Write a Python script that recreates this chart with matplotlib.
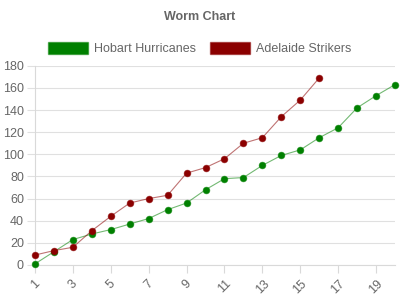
import matplotlib.pyplot as plt
from matplotlib.patches import Patch
from matplotlib.colors import to_rgba

plt.rcParams['font.family'] = ['Liberation Sans', 'DejaVu Sans']

overs = list(range(1, 21))
hobart = [1, 12, 23, 28, 32, 37, 42, 50, 56, 68, 78, 79, 90, 99, 104, 115, 124, 142, 153, 163]
adelaide = [9, 13, 16, 31, 44, 56, 60, 63, 83, 88, 96, 110, 115, 134, 149, 169]
teams = ['Hobart Hurricanes', 'Adelaide Strikers']
colors = ['#008000', '#8b0000']
tick_labels = [str(i) for i in range(1, 21, 2)]


def main():
    fig = plt.figure(figsize=(4, 3), dpi=100)
    ax = fig.add_axes([0.0875, 0.1167, 0.9, 0.664])
    grey = '#666666'

    series = [hobart, adelaide]
    for vals, c in zip(series, colors):
        x = overs[:len(vals)]
        ax.plot(x, vals, color=c, alpha=0.55, linewidth=0.8, zorder=2)
        ax.plot(x, vals, linestyle='none', marker='o', markersize=4.8,
                markerfacecolor=c, markeredgecolor=to_rgba(c, 0.6),
                markeredgewidth=0.6, zorder=3, clip_on=False)

    ax.set_xlim(1, 20)
    ax.set_ylim(0, 180)
    ax.set_yticks(range(0, 181, 20))
    ax.set_xticks(range(1, 21, 2))
    ax.set_xticklabels(tick_labels, rotation=45, ha='center', va='top')

    ax.grid(axis='y', color='#e0e0e0', linewidth=0.8)
    ax.set_axisbelow(True)
    for s in ['top', 'right']:
        ax.spines[s].set_visible(False)
    for s in ['left', 'bottom']:
        ax.spines[s].set_color('#d9d9d9')
        ax.spines[s].set_linewidth(0.8)
    ax.tick_params(axis='y', length=6, color='#e0e0e0', labelsize=9,
                   labelcolor=grey, pad=2)
    ax.tick_params(axis='x', length=6, color='#d9d9d9', labelsize=9,
                   labelcolor=grey, pad=3)

    fig.text(0.5, 0.943, 'Worm Chart', ha='center', va='center',
             fontsize=9, fontweight='bold', color=grey)

    handles = [Patch(facecolor=c, edgecolor=to_rgba(c, 0.5), linewidth=1)
               for c in colors]
    fig.legend(handles, teams, loc='center', bbox_to_anchor=(0.5, 0.837),
               ncol=2, frameon=False, fontsize=9, labelcolor=grey,
               handlelength=3.2, handleheight=1.0, handletextpad=0.5,
               columnspacing=1.1)

    fig.savefig('out.png', dpi=100)


if __name__ == '__main__':
    main()
